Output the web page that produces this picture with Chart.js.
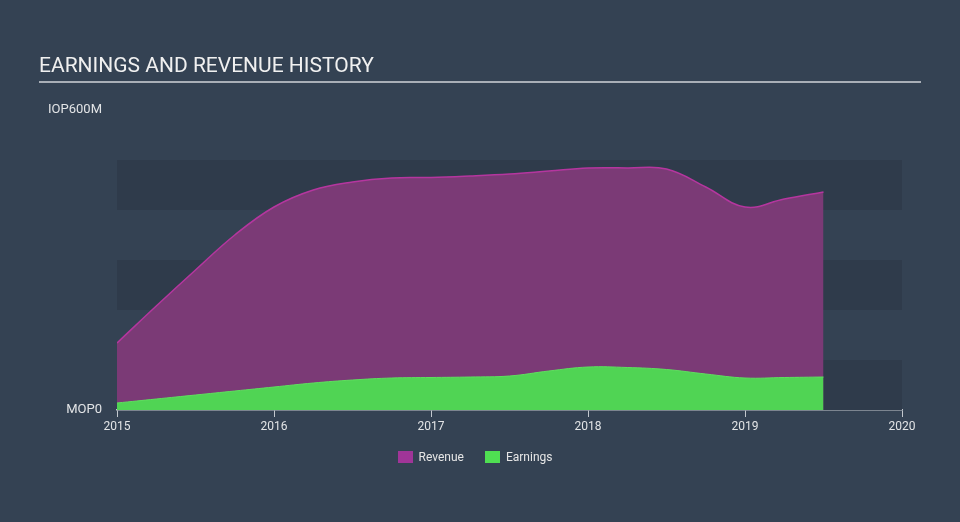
<!DOCTYPE html>
<html>
<head>
<meta charset="utf-8">
<script src="https://cdn.jsdelivr.net/npm/chart.js@4"></script>
<style>
  html, body { margin: 0; padding: 0; background: #344253; }
  #wrap { position: relative; width: 960px; height: 522px; overflow: hidden; }
  #title {
    position: absolute; left: 39px; top: 53px; width: 882px;
    font: 21px Roboto, sans-serif; color: #f0f0f0;
    padding-bottom: 4px; border-bottom: 2px solid #a9afb7;
  }
  #legend {
    position: absolute; top: 450px; left: 0; width: 950px; text-align: center;
    font: 12px Roboto, sans-serif; color: #e6e6e6;
  }
  #legend span.item { display: inline-block; margin: 0 9px; }
  #legend span.box { display: inline-block; width: 15px; height: 12px; vertical-align: -2px; margin-right: 6px; }
  canvas { position: absolute; left: 0; top: 0; }
</style>
</head>
<body>
<div id="wrap">
  <canvas id="myChart" width="960" height="522"></canvas>
  <div id="title">EARNINGS AND REVENUE HISTORY</div>
  <div id="legend">
    <span class="item"><span class="box" style="background:#a03598"></span>Revenue</span>
    <span class="item"><span class="box" style="background:#4fdf52"></span>Earnings</span>
  </div>
</div>
<script>
// dates as fractional years, values in millions
var dates = [2015, 2015.25, 2015.5, 2015.75, 2016, 2016.25, 2016.5, 2016.75, 2017, 2017.25, 2017.5, 2017.75, 2018, 2018.25, 2018.5, 2018.75, 2019, 2019.25, 2019.5]
var revenue = [134, 208, 280, 350, 406, 440, 456, 464, 465, 468, 472, 478, 484, 484, 482, 446, 406, 422, 436]
var earnings = [14, 22, 30, 38, 46, 54, 60, 64, 65, 66, 68, 78, 86, 85, 81, 72, 64, 65, 66]
var yearTicks = [2015, 2016, 2017, 2018, 2019, 2020]
var yLabels = {0: "MOP0", 600: "IOP600M"}

function points(arr) {
  return arr.map(function(v, i) { return {x: dates[i], y: v} })
}

// alternating background bands behind the plot
var bands = {
  id: "bands",
  beforeDatasetsDraw: function(chart) {
    var ctx = chart.ctx, a = chart.chartArea, y = chart.scales.y
    ctx.save()
    ctx.fillStyle = "#2f3b4b"
    ;[0, 200, 400].forEach(function(v) {
      var top = y.getPixelForValue(v + 100), bot = y.getPixelForValue(v)
      ctx.fillRect(a.left, top, a.right - a.left, bot - top)
    })
    ctx.restore()
  }
}

new Chart("myChart", {
  type: "line",
  data: {
    datasets: [{
      label: "Earnings",
      data: points(earnings),
      borderColor: "#5ee05e",
      backgroundColor: "#50d454",
      borderWidth: 1,
      fill: "origin",
      pointRadius: 0,
      tension: 0.4,
      order: 0
    }, {
      label: "Revenue",
      data: points(revenue),
      borderColor: "#b5369f",
      backgroundColor: "#7b3a76",
      borderWidth: 1.5,
      fill: "origin",
      pointRadius: 0,
      tension: 0.4,
      order: 1
    }]
  },
  options: {
    responsive: false,
    animation: false,
    layout: { padding: { left: 0, right: 58, top: 110, bottom: 82 } },
    plugins: { legend: { display: false }, tooltip: { enabled: false } },
    scales: {
      x: {
        type: "linear",
        min: 2015, max: 2020,
        afterBuildTicks: function(s) { s.ticks = yearTicks.map(function(v) { return {value: v} }) },
        afterFit: function(s) { s.height = 30 },
        grid: { drawOnChartArea: false, color: "#c3c8ce", tickLength: 7, lineWidth: 1 },
        border: { color: "#c3c8ce", width: 1.5 },
        ticks: { color: "#e2e4e6", font: { family: "Roboto", size: 12 }, padding: 3, maxRotation: 0,
          callback: function(v) { return String(v) } }
      },
      y: {
        min: 0, max: 600,
        afterBuildTicks: function(s) { s.ticks = [{value: 0}, {value: 600}] },
        afterFit: function(s) { s.width = 117 },
        grid: { display: false, drawTicks: false },
        border: { display: false },
        ticks: { color: "#e2e4e6", font: { family: "Roboto", size: 13 }, padding: 15,
          callback: function(v) { return yLabels[v] } }
      }
    }
  },
  plugins: [bands]
})
</script>
</body>
</html>
